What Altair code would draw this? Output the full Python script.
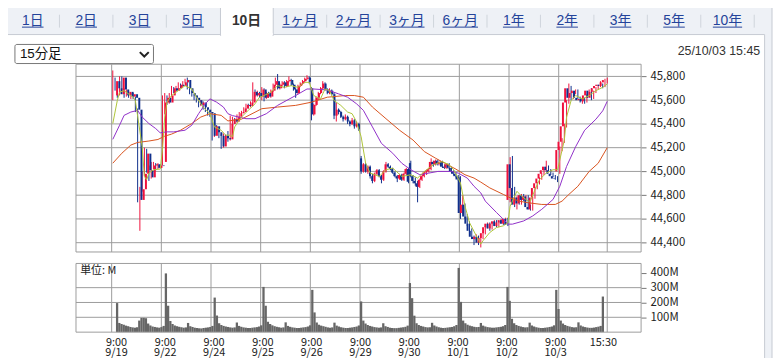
import json
import altair as alt
import pandas as pd

# ---------------- data ----------------
days = ["9/19", "9/22", "9/24", "9/25", "9/26", "9/29", "9/30", "10/1", "10/2", "10/3"]
BARS = 22  # 15-minute bars per session

open_ = [
    45640,45760,45700,45650,45790,45690,45640,45670,45630,45650,45620,45520,44760,44850,44980,45150,45010,44950,45050,45060,45030,45050,
    45080,45580,45620,45580,45640,45700,45680,45700,45730,45720,45750,45770,45700,45660,45640,45620,45600,45560,45580,45540,45520,45500,
    45490,45300,45380,45330,45300,45210,45300,45280,45270,45400,45440,45420,45460,45490,45500,45530,45560,45550,45580,45670,45640,45660,
    45630,45690,45620,45660,45630,45680,45730,45760,45700,45730,45750,45720,45760,45770,45730,45690,45660,45720,45740,45760,45780,45790,
    45700,45480,45560,45620,45660,45700,45740,45690,45660,45680,45650,45470,45520,45500,45460,45440,45460,45420,45400,45430,45380,45400,
    45110,45000,45060,45000,45040,44960,44920,44980,45010,44960,44930,45000,45060,45040,45020,44990,44960,44940,44970,44930,44980,45020,
    45070,44960,44920,44900,44870,44930,44960,44990,45000,45020,45080,45060,45090,45060,45080,45040,45030,45060,45030,45000,44980,44960,
    44950,44650,44720,44620,44560,44500,44450,44430,44450,44400,44440,44480,44530,44560,44520,44560,44580,44540,44570,44590,44560,44600,
    44760,45060,44860,44720,44780,44730,44800,44760,44790,44700,44680,44780,44860,44900,44940,44980,45010,45040,45010,44980,44960,44940,
    45000,45180,45250,45380,45580,45700,45620,45660,45680,45620,45600,45610,45590,45640,45680,45620,45670,45700,45720,45730,45720,45750,
]
high = [
    45850,45790,45720,45800,45800,45700,45690,45680,45660,45660,45630,45530,44870,45000,45200,45190,45050,45080,45080,45070,45070,45060,
    45640,45660,45640,45660,45720,45710,45720,45750,45740,45760,45780,45790,45710,45680,45650,45630,45610,45600,45590,45550,45530,45510,
    45500,45400,45390,45350,45310,45320,45310,45340,45470,45460,45450,45480,45500,45510,45540,45570,45570,45590,45750,45690,45680,45670,
    45710,45700,45670,45670,45690,45740,45790,45820,45740,45760,45760,45770,45800,45780,45740,45700,45730,45750,45770,45790,45810,45800,
    45710,45570,45630,45670,45710,45760,45750,45700,45700,45690,45660,45580,45530,45510,45470,45480,45470,45430,45450,45440,45420,45410,
    45130,45070,45070,45050,45050,44980,44990,45020,45020,44970,45010,45080,45070,45050,45030,45000,44970,44980,44980,44990,45030,45030,
    45090,44970,44950,44920,44940,44970,45000,45010,45030,45110,45090,45100,45100,45090,45090,45060,45070,45070,45040,45010,44990,44970,
    44960,44800,44730,44640,44580,44520,44460,44470,44460,44450,44490,44540,44570,44570,44570,44590,44590,44580,44600,44600,44610,44610,
    45120,45130,44870,44790,44800,44810,44810,44800,44800,44720,44790,44870,44910,44950,44990,45020,45090,45050,45020,44990,44970,44960,
    45210,45280,45400,45600,45740,45720,45670,45690,45690,45630,45620,45620,45650,45690,45700,45680,45710,45730,45760,45740,45780,45790,
]
low = [
    45600,45680,45620,45640,45680,45620,45630,45620,45610,45610,45500,44740,44500,44830,44960,44990,44920,44940,45020,45010,45020,45030,
    45050,45480,45560,45570,45630,45660,45670,45690,45700,45710,45740,45690,45650,45630,45600,45580,45540,45550,45520,45500,45470,45460,
    45260,45290,45320,45280,45190,45200,45260,45250,45260,45380,45400,45410,45450,45470,45490,45520,45530,45540,45570,45630,45630,45620,
    45600,45590,45610,45620,45620,45670,45720,45690,45690,45720,45700,45710,45750,45720,45680,45620,45650,45710,45730,45750,45770,45740,
    45430,45470,45550,45600,45650,45690,45680,45650,45650,45640,45440,45420,45480,45450,45420,45430,45400,45380,45390,45360,45370,45340,
    44980,44990,44990,44980,44940,44900,44910,44970,44950,44900,44920,44990,45030,45010,44980,44950,44910,44930,44920,44920,44970,44900,
    44950,44900,44880,44740,44860,44920,44950,44970,44990,45010,45040,45050,45050,45050,45030,45020,45020,45020,44990,44970,44950,44920,
    44600,44640,44600,44540,44480,44430,44380,44420,44380,44360,44430,44470,44520,44500,44510,44550,44530,44530,44560,44550,44550,44540,
    44740,44840,44700,44680,44720,44720,44750,44750,44680,44670,44670,44770,44850,44890,44930,44970,45000,45000,44970,44950,44930,44910,
    44980,45170,45240,45370,45570,45600,45610,45650,45610,45580,45570,45570,45580,45630,45600,45610,45660,45690,45710,45700,45710,45740,
]
close = [
    45760,45700,45650,45790,45690,45640,45670,45630,45650,45620,45520,44760,44850,44980,45150,45010,44950,45050,45060,45030,45050,45045,
    45580,45620,45580,45640,45700,45680,45700,45730,45720,45750,45770,45700,45660,45640,45620,45600,45560,45580,45540,45520,45500,45490,
    45300,45380,45330,45300,45210,45300,45280,45270,45400,45440,45420,45460,45490,45500,45530,45560,45550,45580,45670,45640,45660,45630,
    45690,45620,45660,45630,45680,45730,45760,45700,45730,45750,45720,45760,45770,45730,45690,45660,45720,45740,45760,45780,45790,45754,
    45480,45560,45620,45660,45700,45740,45690,45660,45680,45650,45470,45520,45500,45460,45440,45460,45420,45400,45430,45380,45400,45354,
    45000,45060,45000,45040,44960,44920,44980,45010,44960,44930,45000,45060,45040,45020,44990,44960,44940,44970,44930,44980,45020,44913,
    44960,44920,44900,44870,44930,44960,44990,45000,45020,45080,45060,45090,45060,45080,45040,45030,45060,45030,45000,44980,44960,44932,
    44650,44720,44620,44560,44500,44450,44430,44450,44400,44440,44480,44530,44560,44520,44560,44580,44540,44570,44590,44560,44600,44550,
    45060,44860,44720,44780,44730,44800,44760,44790,44700,44680,44780,44860,44900,44940,44980,45010,45040,45010,44980,44960,44940,44936,
    45180,45250,45380,45580,45700,45620,45660,45680,45620,45600,45610,45590,45640,45680,45620,45670,45700,45720,45730,45720,45750,45769,
]
volume = [  # millions of shares
    196,62,55,50,44,40,35,32,30,33,78,96,96,94,58,45,38,35,32,30,34,42,
    396,178,75,55,45,40,36,33,30,32,62,40,35,30,28,26,25,28,30,32,35,42,
    233,112,60,48,42,38,35,32,30,32,65,42,36,32,30,28,28,30,32,34,38,46,
    305,178,70,55,46,40,36,33,30,32,66,42,36,32,30,28,28,30,32,34,38,46,
    285,133,65,50,44,40,36,32,30,32,64,44,38,33,30,28,28,30,32,35,38,45,
    207,78,58,48,42,38,34,32,30,32,60,40,35,30,28,27,27,29,31,33,36,44,
    331,229,111,60,48,42,38,34,32,33,63,45,38,33,30,28,29,31,33,35,40,48,
    433,204,78,60,50,44,40,36,34,35,62,44,38,34,32,30,30,32,34,36,40,48,
    305,211,90,60,48,42,38,34,32,33,64,45,38,33,30,28,28,30,32,35,38,46,
    285,156,78,58,48,42,38,34,32,33,66,45,38,34,31,29,29,31,34,37,42,240,
]

# moving averages, read at sample bars
ma_short_idx = [0,2,3,5,9,10,13,14,15,16,18,21,22,23,24,26,29,32,35,37,40,43,45,48,50,52,53,54,57,60,63,65,67,70,73,76,79,82,85,87,89,92,94,96,98,101,104,106,108,110,112,114,118,121,124,128,132,135,138,142,146,149,151,154,156,158,161,163,164,167,170,173,175,176,178,179,181,184,185,187,189,192,195,197,198,200,201,203,205,208,211,214,217,219]
ma_short = [45403,45597,45667,45680,45625,45597,45208,44958,44930,44986,45014,45020,45180,45458,45583,45639,45680,45722,45694,45625,45542,45486,45375,45347,45305,45305,45292,45375,45458,45514,45569,45625,45639,45667,45722,45708,45722,45708,45750,45750,45639,45611,45694,45680,45597,45556,45500,45486,45417,45292,45069,44986,44958,45014,45028,44958,44972,44944,45000,45056,45083,45056,45014,44903,44708,44569,44458,44389,44417,44486,44528,44542,44569,44708,44792,44833,44792,44750,44750,44847,44931,44986,45014,45014,45097,45264,45458,45597,45639,45611,45639,45680,45708,45736]
ma_mid_idx = [0,3,5,8,11,13,16,19,21,24,27,32,35,38,41,43,46,49,51,53,59,63,68,73,81,86,89,95,100,104,106,108,111,115,119,124,128,132,136,140,144,150,153,157,160,163,165,170,173,175,177,182,186,190,195,198,201,205,209,214,217,219]
ma_mid = [45270,45389,45472,45500,45514,45458,45403,45361,45325,45333,45333,45347,45389,45486,45569,45611,45583,45542,45486,45470,45444,45444,45486,45556,45639,45694,45694,45686,45653,45625,45597,45569,45514,45375,45236,45153,45069,45014,44972,44986,45000,45000,44986,44944,44875,44819,44750,44653,44597,44556,44556,44583,44625,44681,44764,44875,45042,45208,45347,45440,45510,45590]
ma_long_idx = [0,4,8,11,16,20,23,26,30,35,39,43,48,51,57,66,73,81,88,95,103,107,111,115,121,127,133,138,143,147,152,156,160,163,167,173,176,180,184,190,196,199,202,206,211,215,219]
ma_long = [45069,45153,45222,45244,45256,45269,45297,45314,45347,45403,45458,45486,45472,45425,45440,45528,45542,45556,45583,45625,45639,45639,45625,45542,45444,45347,45264,45167,45111,45069,45019,44972,44944,44910,44861,44806,44778,44750,44736,44722,44722,44750,44806,44875,45000,45069,45200]

tab_labels = ["1日", "2日", "3日", "5日", "10日", "1ヶ月", "2ヶ月", "3ヶ月", "6ヶ月", "1年", "2年", "3年", "5年", "10年"]
selected_tab = "10日"
interval_label = "15分足"
stamp_label = "25/10/03 15:45"
unit_label = "単位: M"
price_ticks = [44400, 44600, 44800, 45000, 45200, 45400, 45600, 45800]
vol_label_ticks = [100, 200, 300, 400]
vol_grid_ticks = [100, 200, 300]

# ---------------- layout / style ----------------
OX, OY = 76.7, 63.0          # page position of plot origin
W, H = 571.0, 270.7          # price + volume stack
PRICE_BOTTOM = 189.7
VOL_TOP = 201.3
UP, DOWN = "#f0103c", "#10308c"
C_SHORT, C_MID, C_LONG = "#aec43a", "#9030c8", "#d9531e"
GRID = "#9c9c9c"
LINK = "#24439a"
FONT_UI = "Liberation Sans, Noto Sans CJK JP, sans-serif"
FONT_AX = "Noto Sans CJK JP, sans-serif"


def lx(p):
    return round(p - OX, 2)


def ly(p):
    return round(p - OY, 2)


xs = alt.Scale(domain=[-15.8, 234.5], range=[0, W], nice=False, zero=False)
ps = alt.Scale(domain=[44321.7, 45902.5], range=[PRICE_BOTTOM, 0], nice=False, zero=False)
vs = alt.Scale(domain=[0, 463], range=[H, VOL_TOP], nice=False, zero=False)

n = len(close)
bars = pd.DataFrame({"x": [i + 0.5 for i in range(n)], "o": open_, "h": high,
                     "l": low, "c": close, "v": volume})

tick_vals = [d * BARS for d in range(len(days))] + [n - 0.5]
tick_labels = [["9:00", d] for d in days] + [["15:30"]]
label_expr = (json.dumps(tick_labels, ensure_ascii=False)
              + "[indexof(" + json.dumps(tick_vals) + ", datum.value)]")

x_axis = alt.Axis(values=tick_vals, labelExpr=label_expr, grid=False, ticks=False,
                  domain=False, labelFont=FONT_AX, labelFontSize=11, labelColor="#222",
                  labelLineHeight=11, labelPadding=4, labelBaseline="top",
                  labelOverlap=False, labelFlush=False, title=None, zindex=1)
price_axis = alt.Axis(orient="right", values=price_ticks, format=",d", grid=False,
                      tickSize=5, tickColor="#777", domain=False, labelFont=FONT_AX,
                      labelFontSize=11.5, labelColor="#222", labelPadding=4, title=None,
                      zindex=1)
vol_axis = alt.Axis(orient="right", values=vol_label_ticks, labelExpr="datum.value + 'M'",
                    grid=False, tickSize=5, tickColor="#777", domain=False,
                    labelFont=FONT_AX, labelFontSize=11.5, labelColor="#222",
                    labelPadding=4, title=None, zindex=1)

# ---------------- chrome ----------------
def px(col):
    return alt.X(f"{col}:Q", scale=None, axis=None)


def py(col):
    return alt.Y(f"{col}:Q", scale=None, axis=None)


bg = pd.DataFrame([
    {"x": lx(2), "x2": lx(780), "y": ly(2), "y2": ly(362), "f": "#eef1f6", "s": "#c6cad2"},
    {"x": lx(3.5), "x2": lx(772.5), "y": ly(33), "y2": ly(364), "f": "#ffffff", "s": "#c6cad2"},
    {"x": lx(222.7), "x2": lx(276), "y": ly(5), "y2": ly(34), "f": "#ffffff", "s": "#c6cad2"},
    {"x": lx(223.3), "x2": lx(275.4), "y": ly(31.5), "y2": ly(35.5), "f": "#ffffff", "s": "transparent"},
])
bg_layer = alt.Chart(bg).mark_rect(strokeWidth=1).encode(
    x=px("x"), x2="x2", y=py("y"), y2="y2",
    fill=alt.Fill("f:N", scale=None), stroke=alt.Stroke("s:N", scale=None))

sep_x = [60 + 54 * k for k in range(14) if k not in (3, 4)]
seps = pd.DataFrame({"x": [lx(v) for v in sep_x], "y": ly(13), "y2": ly(26)})
sep_layer = alt.Chart(seps).mark_rule(color="#cfd4dc").encode(x=px("x"), y=py("y"), y2="y2")


def text_w(s, fs=14):
    return sum(0.556 * fs if ch.isdigit() else fs for ch in s)


tab_rows = []
for k, t in enumerate(tab_labels):
    cx = 33 + 54 * k
    tab_rows.append({"x": lx(cx), "y": ly(19.5), "t": t,
                     "ux": lx(cx - text_w(t) / 2), "ux2": lx(cx + text_w(t) / 2),
                     "uy": ly(25.5), "sel": t == selected_tab})
tabs = pd.DataFrame(tab_rows)
tabs_off = tabs[~tabs["sel"]]
tabs_on = tabs[tabs["sel"]]
tab_text = alt.Chart(tabs_off).mark_text(font=FONT_UI, fontSize=14, color=LINK,
                                         baseline="middle", align="center").encode(
    x=px("x"), y=py("y"), text="t:N")
tab_sel = alt.Chart(tabs_on).mark_text(font=FONT_UI, fontSize=14, color="#333",
                                       fontWeight="bold", baseline="middle",
                                       align="center").encode(x=px("x"), y=py("y"), text="t:N")
tab_ul = alt.Chart(tabs_off).mark_rule(color=LINK, strokeWidth=1).encode(
    x=px("ux"), x2="ux2", y=py("uy"))

sel_box = alt.Chart(pd.DataFrame([{"x": lx(15), "x2": lx(155), "y": ly(43), "y2": ly(62.3)}])
                    ).mark_rect(fill="white", stroke="#767676", strokeWidth=1,
                                cornerRadius=2).encode(x=px("x"), x2="x2", y=py("y"), y2="y2")
sel_text = alt.Chart(pd.DataFrame([{"x": lx(20), "y": ly(53), "t": interval_label}])
                     ).mark_text(font=FONT_UI, fontSize=13.5, color="#111", align="left",
                                 baseline="middle").encode(x=px("x"), y=py("y"), text="t:N")
chevron = alt.Chart(pd.DataFrame([{"x": lx(145.7), "y": ly(53)}])).mark_point(
    shape="M-1,-0.5L0,0.5L1,-0.5", filled=False, strokeWidth=2, size=81, color="#222",
    opacity=1).encode(x=px("x"), y=py("y"))
stamp = alt.Chart(pd.DataFrame([{"x": lx(768), "y": ly(50), "t": stamp_label}])
                  ).mark_text(font=FONT_UI, fontSize=12.5, color="#333", align="right",
                              baseline="middle").encode(x=px("x"), y=py("y"), text="t:N")
unit = alt.Chart(pd.DataFrame([{"x": lx(81), "y": ly(271.5), "t": unit_label}])
                 ).mark_text(font=FONT_AX, fontSize=11, color="#222", align="left",
                             baseline="middle").encode(x=px("x"), y=py("y"), text="t:N")

# ---------------- grids and panels ----------------
vgrid = pd.DataFrame({"x": tick_vals})
vgrid_price = alt.Chart(vgrid).mark_rule(color=GRID, strokeWidth=1).encode(
    x=alt.X("x:Q", scale=xs, axis=None), y=alt.value(0), y2=alt.value(PRICE_BOTTOM))
vgrid_vol = alt.Chart(vgrid).mark_rule(color=GRID, strokeWidth=1).encode(
    x=alt.X("x:Q", scale=xs, axis=None), y=alt.value(VOL_TOP), y2=alt.value(H))
hgrid_price = alt.Chart(pd.DataFrame({"g": price_ticks})).mark_rule(
    color=GRID, strokeWidth=1).encode(
    y=alt.Y("g:Q", scale=ps, axis=None), x=alt.value(0), x2=alt.value(W))
hgrid_vol = alt.Chart(pd.DataFrame({"g": vol_grid_ticks})).mark_rule(
    color=GRID, strokeWidth=1).encode(
    y=alt.Y("g:Q", scale=vs, axis=None), x=alt.value(0), x2=alt.value(W))
panels = alt.Chart(pd.DataFrame([
    {"x": 0, "x2": W, "y": 0, "y2": PRICE_BOTTOM},
    {"x": 0, "x2": W, "y": VOL_TOP, "y2": H},
])).mark_rect(fillOpacity=0, stroke=GRID, strokeWidth=1).encode(
    x=px("x"), x2="x2", y=py("y"), y2="y2")

# ---------------- price ----------------
candle_color = alt.condition("datum.c >= datum.o", alt.value(UP), alt.value(DOWN))
wicks = alt.Chart(bars).mark_rule(strokeWidth=1).encode(
    x=alt.X("x:Q", scale=xs, axis=None), y=alt.Y("l:Q", scale=ps, axis=None), y2="h",
    color=candle_color)
bodies = alt.Chart(bars).mark_bar(size=2).encode(
    x=alt.X("x:Q", scale=xs, axis=None), y=alt.Y("o:Q", scale=ps, axis=price_axis), y2="c",
    color=candle_color)


def ma_layer(idx, vals, colr):
    df = pd.DataFrame({"x": [i + 0.5 for i in idx], "m": vals})
    return alt.Chart(df).mark_line(strokeWidth=1, color=colr).encode(
        x=alt.X("x:Q", scale=xs, axis=None), y=alt.Y("m:Q", scale=ps, axis=None))


ma_l = ma_layer(ma_long_idx, ma_long, C_LONG)
ma_m = ma_layer(ma_mid_idx, ma_mid, C_MID)
ma_s = ma_layer(ma_short_idx, ma_short, C_SHORT)

# ---------------- volume ----------------
vol_bars = alt.Chart(bars).mark_bar(size=2.3, color="#666666").encode(
    x=alt.X("x:Q", scale=xs, axis=x_axis), y=alt.Y("v:Q", scale=vs, axis=vol_axis))

chart = alt.layer(
    bg_layer, sep_layer, tab_text, tab_sel, tab_ul, sel_box, sel_text, chevron, stamp,
    hgrid_price, vgrid_price, hgrid_vol, vgrid_vol,
    wicks, bodies, ma_l, ma_m, ma_s, vol_bars, panels, unit,
).resolve_scale(x="independent", y="independent").properties(
    width=W, height=H,
    padding={"left": OX - 8, "top": OY - 8, "right": 783 - OX - W, "bottom": 358 - OY - H},
    autosize=alt.AutoSizeParams(type="none"),
).configure_view(stroke=None)

chart.save("out.html", embed_options={"renderer": "svg", "actions": False})
